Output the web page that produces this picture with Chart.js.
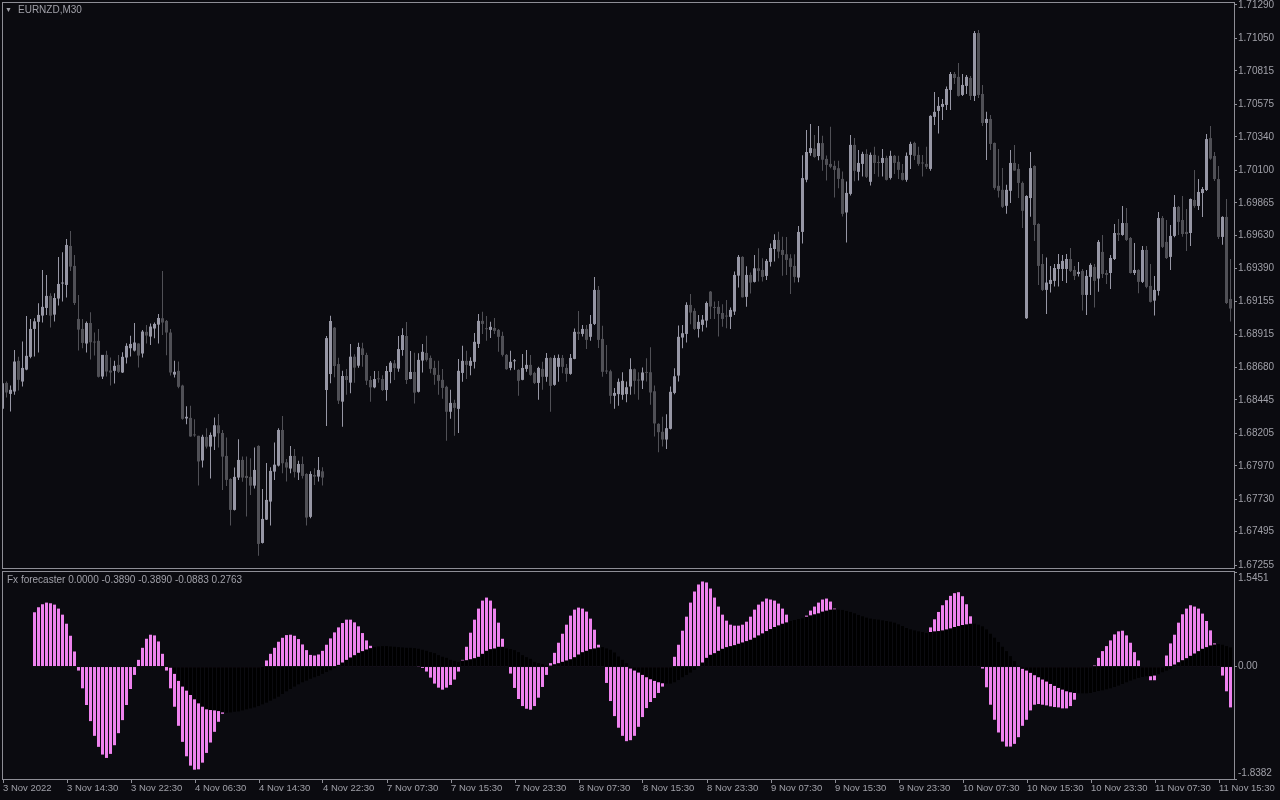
<!DOCTYPE html>
<html>
<head>
<meta charset="utf-8">
<script src="https://cdn.jsdelivr.net/npm/chart.js@4.4.1/dist/chart.umd.min.js"></script>
<style>
html, body { margin: 0; padding: 0; background: #0b0b10; width: 1280px; height: 800px; overflow: hidden; }
#wrap { position: relative; width: 1280px; height: 800px; }
canvas { position: absolute; left: 0; }
#price { top: 0; }
#ind { top: 569px; }
.lbl { position: absolute; font: 10px "Liberation Sans", Arial, sans-serif; color: #a0a0a8; white-space: nowrap; z-index: 2; }
</style>
</head>
<body>
<div id="wrap">
  <canvas id="price" width="1280" height="569"></canvas>
  <canvas id="ind" width="1280" height="231"></canvas>
  <div class="lbl" style="left:5px;top:3px;font-size:7px;line-height:14px">&#9660;</div>
  <div class="lbl" style="left:18px;top:4px">EURNZD,M30</div>
  <div class="lbl" style="left:7px;top:574px">Fx forecaster 0.0000 -0.3890 -0.3890 -0.0883 0.2763</div>
</div>
<script>
// EURNZD M30 candles, one entry per bar
const opens = [
  1.68380, 1.68567, 1.68488, 1.68505, 1.68726, 1.68577, 1.68663, 1.68755, 1.68956, 1.69007,
  1.69052, 1.69107, 1.69194, 1.69059, 1.69175, 1.69283, 1.69273, 1.69554, 1.69410, 1.69028,
  1.68956, 1.68851, 1.68999, 1.68862, 1.68870, 1.68613, 1.68769, 1.68656, 1.68654, 1.68697,
  1.68642, 1.68750, 1.68817, 1.68800, 1.68851, 1.68779, 1.68935, 1.68901, 1.68959, 1.68987,
  1.69033, 1.69014, 1.68930, 1.68627, 1.68654, 1.68548, 1.68311, 1.68315, 1.68193, 1.68186,
  1.68008, 1.68178, 1.68108, 1.68180, 1.68262, 1.68206, 1.68041, 1.67875, 1.67652, 1.67885,
  1.68012, 1.67897, 1.67890, 1.67827, 1.68113, 1.67414, 1.67582, 1.67712, 1.67928, 1.67971,
  1.68228, 1.67995, 1.67950, 1.68041, 1.67921, 1.67983, 1.67911, 1.67602, 1.67904, 1.67892,
  1.67930, 1.68516, 1.68631, 1.68965, 1.68703, 1.68432, 1.68617, 1.68569, 1.68756, 1.68691,
  1.68816, 1.68768, 1.68588, 1.68535, 1.68597, 1.68595, 1.68516, 1.68646, 1.68708, 1.68670,
  1.68804, 1.68905, 1.68595, 1.68646, 1.68503, 1.68728, 1.68783, 1.68747, 1.68675, 1.68625,
  1.68589, 1.68539, 1.68359, 1.68423, 1.68380, 1.68639, 1.68726, 1.68690, 1.68719, 1.68848,
  1.69014, 1.68959, 1.68949, 1.68963, 1.68949, 1.68906, 1.68769, 1.68675, 1.68723, 1.68661,
  1.68589, 1.68668, 1.68697, 1.68639, 1.68567, 1.68668, 1.68611, 1.68747, 1.68553, 1.68683,
  1.68747, 1.68675, 1.68632, 1.68740, 1.68935, 1.68920, 1.68956, 1.68899, 1.68992, 1.69237,
  1.68884, 1.68654, 1.68651, 1.68474, 1.68486, 1.68481, 1.68486, 1.68541, 1.68666, 1.68589,
  1.68584, 1.68644, 1.68644, 1.68507, 1.68272, 1.68215, 1.68159, 1.68236, 1.68495, 1.68620,
  1.68894, 1.68920, 1.69129, 1.69086, 1.68956, 1.68985, 1.69016, 1.69225, 1.69112, 1.69115,
  1.69071, 1.69052, 1.69043, 1.69081, 1.69340, 1.69475, 1.69187, 1.69345, 1.69295, 1.69393,
  1.69381, 1.69338, 1.69439, 1.69532, 1.69597, 1.69525, 1.69494, 1.69465, 1.69410, 1.69326,
  1.69655, 1.70031, 1.70223, 1.70255, 1.70202, 1.70295, 1.70181, 1.70145, 1.70131, 1.70114,
  1.70037, 1.69795, 1.69929, 1.70282, 1.70088, 1.70145, 1.70217, 1.70016, 1.70210, 1.70157,
  1.70152, 1.70188, 1.70044, 1.70203, 1.70160, 1.70080, 1.70030, 1.70210, 1.70296, 1.70210,
  1.70152, 1.70145, 1.70109, 1.70484, 1.70527, 1.70556, 1.70570, 1.70678, 1.70793, 1.70772,
  1.70642, 1.70707, 1.70764, 1.70635, 1.71088, 1.70649, 1.70440, 1.70469, 1.70296, 1.69987,
  1.69958, 1.69843, 1.69951, 1.70152, 1.70109, 1.70008, 1.69033, 1.69899, 1.70130, 1.69712,
  1.69424, 1.69237, 1.69280, 1.69302, 1.69388, 1.69388, 1.69388, 1.69460, 1.69381, 1.69352,
  1.69374, 1.69201, 1.69331, 1.69403, 1.69319, 1.69511, 1.69359, 1.69359, 1.69460, 1.69647,
  1.69633, 1.69719, 1.69611, 1.69359, 1.69381, 1.69295, 1.69525, 1.69266, 1.69160, 1.69230,
  1.69755, 1.69583, 1.69475, 1.69626, 1.69835, 1.69741, 1.69655, 1.69647, 1.69885, 1.69842,
  1.69935, 1.69957, 1.70331, 1.70202, 1.70036, 1.69619, 1.69763, 1.69172
];
const highs = [
  1.68589, 1.68577, 1.68548, 1.68805, 1.68755, 1.68865, 1.69050, 1.69028, 1.69033, 1.69141,
  1.69381, 1.69345, 1.69213, 1.69213, 1.69475, 1.69508, 1.69604, 1.69662, 1.69489, 1.69201,
  1.69028, 1.69009, 1.69076, 1.68930, 1.68956, 1.68769, 1.68798, 1.68750, 1.68726, 1.68769,
  1.68788, 1.68853, 1.68906, 1.68999, 1.68853, 1.68949, 1.68985, 1.68995, 1.69002, 1.69064,
  1.69374, 1.69021, 1.68956, 1.68726, 1.68721, 1.68553, 1.68399, 1.68402, 1.68306, 1.68186,
  1.68193, 1.68240, 1.68209, 1.68317, 1.68343, 1.68228, 1.68173, 1.67880, 1.67957, 1.68161,
  1.68036, 1.68036, 1.68024, 1.68101, 1.68118, 1.67803, 1.67990, 1.67959, 1.68137, 1.68240,
  1.68329, 1.68019, 1.68113, 1.68091, 1.68007, 1.68036, 1.67916, 1.67930, 1.67952, 1.68034,
  1.67959, 1.68905, 1.69051, 1.68970, 1.68749, 1.68655, 1.68667, 1.68847, 1.68773, 1.68857,
  1.68857, 1.68785, 1.68617, 1.68653, 1.68653, 1.68622, 1.68689, 1.68725, 1.68732, 1.68905,
  1.68960, 1.69006, 1.68797, 1.68785, 1.68781, 1.68848, 1.68906, 1.68764, 1.68726, 1.68726,
  1.68668, 1.68546, 1.68517, 1.68445, 1.68740, 1.68834, 1.68798, 1.68752, 1.68927, 1.69064,
  1.69079, 1.69050, 1.69007, 1.69035, 1.68956, 1.68935, 1.68776, 1.68798, 1.68740, 1.68666,
  1.68776, 1.68805, 1.68769, 1.68647, 1.68683, 1.68719, 1.68783, 1.68752, 1.68767, 1.68771,
  1.68769, 1.68704, 1.68776, 1.68959, 1.69086, 1.68985, 1.68985, 1.69057, 1.69331, 1.69266,
  1.68978, 1.68841, 1.68661, 1.68531, 1.68599, 1.68644, 1.68577, 1.68745, 1.68670, 1.68644,
  1.68678, 1.68745, 1.68824, 1.68548, 1.68277, 1.68323, 1.68342, 1.68541, 1.68673, 1.68980,
  1.68985, 1.69148, 1.69208, 1.69105, 1.69057, 1.69057, 1.69153, 1.69230, 1.69153, 1.69158,
  1.69134, 1.69165, 1.69110, 1.69369, 1.69489, 1.69480, 1.69407, 1.69362, 1.69489, 1.69537,
  1.69465, 1.69460, 1.69571, 1.69638, 1.69657, 1.69621, 1.69619, 1.69494, 1.69494, 1.69698,
  1.70207, 1.70389, 1.70432, 1.70353, 1.70418, 1.70347, 1.70205, 1.70412, 1.70167, 1.70167,
  1.70090, 1.70018, 1.70354, 1.70332, 1.70246, 1.70232, 1.70251, 1.70227, 1.70268, 1.70203,
  1.70253, 1.70203, 1.70239, 1.70210, 1.70203, 1.70145, 1.70227, 1.70304, 1.70304, 1.70268,
  1.70210, 1.70268, 1.70496, 1.70664, 1.70628, 1.70613, 1.70702, 1.70808, 1.70808, 1.70872,
  1.70793, 1.70786, 1.70779, 1.71103, 1.71110, 1.70714, 1.70520, 1.70498, 1.70300, 1.70253,
  1.70116, 1.69994, 1.70246, 1.70282, 1.70145, 1.70018, 1.69919, 1.70231, 1.70135, 1.69717,
  1.69496, 1.69470, 1.69410, 1.69424, 1.69496, 1.69489, 1.69496, 1.69539, 1.69410, 1.69439,
  1.69388, 1.69381, 1.69429, 1.69424, 1.69597, 1.69633, 1.69381, 1.69489, 1.69712, 1.69748,
  1.69842, 1.69827, 1.69619, 1.69575, 1.69386, 1.69554, 1.69554, 1.69424, 1.69338, 1.69799,
  1.69770, 1.69741, 1.69705, 1.69921, 1.69842, 1.69914, 1.69820, 1.69895, 1.70101, 1.70036,
  1.69979, 1.70360, 1.70418, 1.70231, 1.70130, 1.69767, 1.69892, 1.69460
];
const lows = [
  1.68373, 1.68462, 1.68361, 1.68481, 1.68512, 1.68541, 1.68658, 1.68745, 1.68757, 1.68786,
  1.69002, 1.69057, 1.68966, 1.69009, 1.69124, 1.69153, 1.69182, 1.69374, 1.69129, 1.68800,
  1.68817, 1.68786, 1.68735, 1.68764, 1.68606, 1.68596, 1.68613, 1.68548, 1.68563, 1.68639,
  1.68638, 1.68707, 1.68757, 1.68793, 1.68678, 1.68750, 1.68851, 1.68841, 1.68889, 1.68851,
  1.68913, 1.68767, 1.68620, 1.68606, 1.68529, 1.68301, 1.68270, 1.68179, 1.68179, 1.67828,
  1.67958, 1.68094, 1.67878, 1.68084, 1.68101, 1.67796, 1.67825, 1.67539, 1.67647, 1.67868,
  1.67854, 1.67604, 1.67760, 1.67806, 1.67321, 1.67410, 1.67580, 1.67539, 1.67868, 1.67964,
  1.67916, 1.67856, 1.67916, 1.67885, 1.67868, 1.67878, 1.67539, 1.67592, 1.67832, 1.67856,
  1.67827, 1.68257, 1.68564, 1.68607, 1.68415, 1.68252, 1.68482, 1.68492, 1.68569, 1.68677,
  1.68684, 1.68552, 1.68432, 1.68528, 1.68569, 1.68509, 1.68439, 1.68564, 1.68588, 1.68648,
  1.68763, 1.68559, 1.68593, 1.68418, 1.68498, 1.68642, 1.68721, 1.68637, 1.68553, 1.68481,
  1.68452, 1.68150, 1.68308, 1.68186, 1.68207, 1.68575, 1.68596, 1.68623, 1.68671, 1.68819,
  1.68920, 1.68870, 1.68891, 1.68920, 1.68791, 1.68757, 1.68661, 1.68659, 1.68661, 1.68474,
  1.68587, 1.68647, 1.68618, 1.68560, 1.68445, 1.68517, 1.68575, 1.68359, 1.68546, 1.68575,
  1.68637, 1.68575, 1.68625, 1.68738, 1.68877, 1.68901, 1.68812, 1.68870, 1.68985, 1.68819,
  1.68611, 1.68632, 1.68416, 1.68380, 1.68402, 1.68445, 1.68428, 1.68481, 1.68486, 1.68445,
  1.68524, 1.68577, 1.68409, 1.68181, 1.68068, 1.68109, 1.68090, 1.68231, 1.68486, 1.68577,
  1.68817, 1.68858, 1.68990, 1.68949, 1.68894, 1.68937, 1.68966, 1.69028, 1.69028, 1.68901,
  1.68971, 1.68961, 1.68956, 1.69057, 1.69254, 1.69182, 1.69115, 1.69211, 1.69290, 1.69297,
  1.69297, 1.69309, 1.69405, 1.69441, 1.69465, 1.69340, 1.69345, 1.69208, 1.69290, 1.69292,
  1.69571, 1.70012, 1.70204, 1.70190, 1.70171, 1.70095, 1.70025, 1.70114, 1.69903, 1.69970,
  1.69766, 1.69579, 1.69917, 1.70020, 1.70025, 1.70054, 1.70044, 1.69989, 1.70073, 1.70052,
  1.70054, 1.70025, 1.70032, 1.70073, 1.70037, 1.70025, 1.70016, 1.70109, 1.70174, 1.70131,
  1.70054, 1.70109, 1.70095, 1.70426, 1.70364, 1.70462, 1.70534, 1.70534, 1.70721, 1.70630,
  1.70635, 1.70649, 1.70606, 1.70599, 1.70620, 1.70419, 1.70174, 1.70246, 1.69958, 1.69903,
  1.69828, 1.69785, 1.69864, 1.70095, 1.69900, 1.69684, 1.69028, 1.69765, 1.69590, 1.69273,
  1.69230, 1.69064, 1.69218, 1.69261, 1.69261, 1.69302, 1.69287, 1.69367, 1.69309, 1.69333,
  1.69088, 1.69057, 1.69201, 1.69110, 1.69223, 1.69323, 1.69280, 1.69244, 1.69453, 1.69590,
  1.69628, 1.69590, 1.69355, 1.69345, 1.69213, 1.69287, 1.69249, 1.69146, 1.69052, 1.69196,
  1.69539, 1.69460, 1.69381, 1.69616, 1.69633, 1.69621, 1.69518, 1.69554, 1.69830, 1.69813,
  1.69763, 1.69950, 1.70175, 1.70022, 1.69604, 1.69563, 1.69136, 1.69009
];
const closes = [
  1.68565, 1.68498, 1.68517, 1.68721, 1.68589, 1.68675, 1.68762, 1.68956, 1.69011, 1.69057,
  1.69115, 1.69194, 1.69052, 1.69179, 1.69280, 1.69287, 1.69561, 1.69405, 1.69143, 1.68951,
  1.68855, 1.68999, 1.68860, 1.68858, 1.68611, 1.68769, 1.68649, 1.68642, 1.68690, 1.68647,
  1.68755, 1.68834, 1.68848, 1.68858, 1.68764, 1.68937, 1.68908, 1.68973, 1.68992, 1.69035,
  1.69002, 1.68930, 1.68642, 1.68647, 1.68539, 1.68308, 1.68323, 1.68181, 1.68189, 1.68001,
  1.68179, 1.68108, 1.68192, 1.68262, 1.68204, 1.68036, 1.67868, 1.67652, 1.67890, 1.68012,
  1.67885, 1.67882, 1.67827, 1.67940, 1.67407, 1.67587, 1.67724, 1.67933, 1.67978, 1.68228,
  1.67988, 1.67957, 1.68041, 1.67926, 1.67983, 1.67897, 1.67597, 1.67911, 1.67892, 1.67940,
  1.67885, 1.68890, 1.69013, 1.68689, 1.68439, 1.68617, 1.68588, 1.68756, 1.68677, 1.68826,
  1.68768, 1.68583, 1.68535, 1.68595, 1.68593, 1.68516, 1.68653, 1.68713, 1.68674, 1.68811,
  1.68912, 1.68588, 1.68646, 1.68497, 1.68733, 1.68791, 1.68733, 1.68668, 1.68625, 1.68582,
  1.68531, 1.68359, 1.68423, 1.68387, 1.68654, 1.68726, 1.68697, 1.68726, 1.68863, 1.69014,
  1.68992, 1.68954, 1.68971, 1.68942, 1.68899, 1.68769, 1.68666, 1.68719, 1.68728, 1.68582,
  1.68675, 1.68697, 1.68625, 1.68567, 1.68675, 1.68611, 1.68747, 1.68546, 1.68747, 1.68747,
  1.68683, 1.68632, 1.68747, 1.68935, 1.68920, 1.68956, 1.68877, 1.68992, 1.69237, 1.68877,
  1.68647, 1.68649, 1.68474, 1.68495, 1.68575, 1.68582, 1.68536, 1.68666, 1.68582, 1.68584,
  1.68642, 1.68639, 1.68498, 1.68275, 1.68212, 1.68159, 1.68241, 1.68503, 1.68615, 1.68899,
  1.68925, 1.69129, 1.69074, 1.68956, 1.69007, 1.69023, 1.69143, 1.69117, 1.69107, 1.69064,
  1.69028, 1.69045, 1.69093, 1.69345, 1.69475, 1.69184, 1.69345, 1.69290, 1.69393, 1.69374,
  1.69331, 1.69446, 1.69539, 1.69597, 1.69513, 1.69489, 1.69453, 1.69403, 1.69331, 1.69655,
  1.70043, 1.70231, 1.70259, 1.70195, 1.70295, 1.70175, 1.70138, 1.70124, 1.70102, 1.70037,
  1.69785, 1.69936, 1.70282, 1.70095, 1.70152, 1.70217, 1.70052, 1.70210, 1.70152, 1.70152,
  1.70188, 1.70030, 1.70203, 1.70152, 1.70102, 1.70030, 1.70203, 1.70289, 1.70203, 1.70145,
  1.70148, 1.70124, 1.70491, 1.70520, 1.70563, 1.70577, 1.70685, 1.70793, 1.70764, 1.70635,
  1.70714, 1.70772, 1.70635, 1.71088, 1.70642, 1.70440, 1.70469, 1.70289, 1.69972, 1.69951,
  1.69836, 1.69958, 1.70152, 1.70097, 1.70008, 1.69807, 1.69914, 1.70115, 1.69705, 1.69410,
  1.69237, 1.69290, 1.69309, 1.69395, 1.69424, 1.69446, 1.69460, 1.69374, 1.69338, 1.69367,
  1.69201, 1.69338, 1.69417, 1.69302, 1.69583, 1.69352, 1.69345, 1.69467, 1.69647, 1.69633,
  1.69719, 1.69597, 1.69359, 1.69381, 1.69295, 1.69525, 1.69259, 1.69151, 1.69237, 1.69755,
  1.69547, 1.69467, 1.69626, 1.69835, 1.69727, 1.69640, 1.69640, 1.69892, 1.69842, 1.69943,
  1.69964, 1.70324, 1.70183, 1.70036, 1.69619, 1.69763, 1.69143, 1.69103
];

// Fx forecaster buffers (null = no bar drawn)
const forecast = [
  null, null, null, null, null, null, null, null, 0.887, 0.969,
  1.018, 1.045, 1.034, 1.012, 0.947, 0.848, 0.700, 0.503, 0.246, -0.066,
  -0.356, -0.629, -0.892, -1.133, -1.313, -1.439, -1.494, -1.428, -1.286, -1.089,
  -0.876, -0.629, -0.367, -0.137, 0.109, 0.306, 0.454, 0.520, 0.509, 0.410,
  0.208, -0.066, -0.356, -0.657, -0.969, -1.231, -1.467, -1.620, -1.686, -1.680,
  -1.571, -1.412, -1.242, -1.067, -0.903, -0.772, -0.700, -0.600, -0.500, -0.420,
  -0.350, -0.280, -0.200, -0.130, -0.060, 0.000, 0.099, 0.208, 0.306, 0.405,
  0.470, 0.514, 0.520, 0.503, 0.449, 0.361, 0.268, 0.190, 0.180, 0.197,
  0.257, 0.356, 0.460, 0.558, 0.640, 0.711, 0.766, 0.766, 0.722, 0.657,
  0.547, 0.427, 0.339, 0.260, 0.220, 0.190, 0.160, 0.140, 0.120, 0.100,
  0.080, 0.060, 0.040, 0.020, 0.005, -0.022, -0.082, -0.181, -0.279, -0.345,
  -0.378, -0.345, -0.301, -0.213, -0.082, 0.109, 0.323, 0.553, 0.766, 0.947,
  1.078, 1.127, 1.078, 0.947, 0.717, 0.454, 0.180, -0.115, -0.350, -0.531,
  -0.646, -0.690, -0.706, -0.646, -0.509, -0.334, -0.137, 0.055, 0.224, 0.389,
  0.536, 0.684, 0.832, 0.930, 0.963, 0.947, 0.898, 0.783, 0.602, 0.356,
  0.120, -0.268, -0.564, -0.810, -1.000, -1.133, -1.220, -1.204, -1.133, -0.985,
  -0.826, -0.679, -0.580, -0.514, -0.432, -0.328, -0.200, -0.050, 0.159, 0.356,
  0.586, 0.815, 1.045, 1.226, 1.341, 1.390, 1.374, 1.275, 1.127, 0.980,
  0.848, 0.750, 0.684, 0.668, 0.668, 0.684, 0.733, 0.815, 0.930, 1.012,
  1.062, 1.111, 1.095, 1.078, 1.029, 0.947, 0.848, 0.720, 0.700, 0.720,
  0.770, 0.832, 0.914, 0.980, 1.045, 1.095, 1.111, 1.062, 0.947, 0.880,
  0.800, 0.720, 0.640, 0.560, 0.500, 0.450, 0.410, 0.380, 0.360, 0.350,
  0.350, 0.360, 0.370, 0.380, 0.390, 0.400, 0.400, 0.410, 0.430, 0.460,
  0.500, 0.550, 0.640, 0.772, 0.892, 1.002, 1.084, 1.155, 1.199, 1.215,
  1.149, 1.018, 0.821, 0.500, 0.250, -0.033, -0.339, -0.624, -0.870, -1.078,
  -1.226, -1.308, -1.308, -1.264, -1.155, -0.969, -0.870, -0.717, -0.624, -0.613,
  -0.624, -0.635, -0.651, -0.662, -0.668, -0.684, -0.684, -0.646, -0.542, -0.350,
  -0.250, -0.150, -0.050, 0.016, 0.142, 0.252, 0.334, 0.427, 0.525, 0.575,
  0.586, 0.509, 0.389, 0.235, 0.099, -0.050, -0.120, -0.224, -0.224, -0.100,
  -0.050, 0.180, 0.378, 0.520, 0.717, 0.854, 0.947, 1.002, 0.980, 0.947,
  0.865, 0.744, 0.591, 0.378, 0.200, -0.148, -0.405, -0.668
];
const signal = [
  null, null, null, null, null, null, null, null, null, null,
  null, null, null, null, null, null, null, null, null, null,
  null, null, null, null, null, null, null, null, null, null,
  null, null, null, null, null, null, null, null, null, null,
  null, null, -0.020, -0.120, -0.235, -0.328, -0.394, -0.465, -0.536, -0.602,
  -0.657, -0.700, -0.711, -0.717, -0.728, -0.750, -0.755, -0.750, -0.739, -0.733,
  -0.717, -0.700, -0.684, -0.668, -0.646, -0.618, -0.591, -0.558, -0.525, -0.493,
  -0.449, -0.405, -0.367, -0.328, -0.290, -0.257, -0.230, -0.200, -0.175, -0.153,
  -0.120, -0.088, -0.060, -0.027, 0.027, 0.066, 0.109, 0.148, 0.186, 0.224,
  0.252, 0.279, 0.301, 0.317, 0.328, 0.334, 0.334, 0.328, 0.323, 0.317,
  0.312, 0.306, 0.306, 0.301, 0.290, 0.274, 0.257, 0.235, 0.219, 0.186,
  0.159, 0.142, 0.109, 0.093, 0.077, 0.099, 0.104, 0.120, 0.137, 0.159,
  0.208, 0.257, 0.285, 0.296, 0.323, 0.323, 0.296, 0.285, 0.268, 0.235,
  0.186, 0.153, 0.126, 0.077, 0.055, 0.038, 0.016, 0.016, 0.038, 0.055,
  0.077, 0.099, 0.120, 0.153, 0.197, 0.235, 0.257, 0.285, 0.296, 0.312,
  0.317, 0.296, 0.274, 0.230, 0.164, 0.109, 0.055, -0.033, -0.066, -0.099,
  -0.137, -0.175, -0.208, -0.235, -0.257, -0.274, -0.279, -0.279, -0.257, -0.219,
  -0.175, -0.137, -0.099, -0.055, -0.011, 0.066, 0.142, 0.192, 0.219, 0.257,
  0.290, 0.317, 0.334, 0.350, 0.372, 0.394, 0.416, 0.438, 0.471, 0.509,
  0.542, 0.580, 0.613, 0.646, 0.673, 0.700, 0.722, 0.744, 0.761, 0.777,
  0.788, 0.815, 0.837, 0.854, 0.870, 0.898, 0.914, 0.930, 0.936, 0.930,
  0.925, 0.909, 0.892, 0.870, 0.843, 0.821, 0.799, 0.783, 0.772, 0.766,
  0.755, 0.744, 0.733, 0.717, 0.690, 0.662, 0.629, 0.607, 0.591, 0.575,
  0.564, 0.558, 0.564, 0.575, 0.580, 0.591, 0.607, 0.624, 0.646, 0.662,
  0.679, 0.690, 0.700, 0.700, 0.684, 0.657, 0.607, 0.536, 0.471, 0.400,
  0.323, 0.252, 0.170, 0.088, 0.011, -0.038, -0.066, -0.104, -0.142, -0.175,
  -0.213, -0.246, -0.285, -0.317, -0.350, -0.378, -0.405, -0.421, -0.432, -0.438,
  -0.438, -0.438, -0.432, -0.416, -0.400, -0.389, -0.372, -0.356, -0.334, -0.312,
  -0.285, -0.257, -0.230, -0.208, -0.186, -0.170, -0.159, -0.159, -0.148, -0.126,
  -0.093, -0.066, -0.038, 0.033, 0.071, 0.104, 0.137, 0.175, 0.213, 0.252,
  0.290, 0.317, 0.345, 0.361, 0.367, 0.356, 0.334, 0.312
];

const priceTicks = [1.71290, 1.71050, 1.70815, 1.70575, 1.70340, 1.70100, 1.69865, 1.69630, 1.69390,
  1.69155, 1.68915, 1.68680, 1.68445, 1.68205, 1.67970, 1.67730, 1.67495, 1.67255];
const indTicks = [-1.8382, 0, 1.5451];
const indTickLabels = ['-1.8382', '0.00', '1.5451'];
const timeLabels = ['3 Nov 2022', '3 Nov 14:30', '3 Nov 22:30', '4 Nov 06:30', '4 Nov 14:30', '4 Nov 22:30',
  '7 Nov 07:30', '7 Nov 15:30', '7 Nov 23:30', '8 Nov 07:30', '8 Nov 15:30', '8 Nov 23:30',
  '9 Nov 07:30', '9 Nov 15:30', '9 Nov 23:30', '10 Nov 07:30', '10 Nov 15:30', '10 Nov 23:30',
  '11 Nov 07:30', '11 Nov 15:30'];
const barsPerLabel = 16;

const upColor = '#9797a5';
const downColor = '#505056';
const frameColor = '#8e8e96';
const textColor = '#a0a0a8';

Chart.defaults.font.family = '"Liberation Sans", Arial, sans-serif';
Chart.defaults.font.size = 10;
Chart.defaults.color = textColor;

// MT4 style box around each plot area
const frame = {
  id: 'frame',
  afterDraw(chart) {
    const { ctx, chartArea: a } = chart;
    ctx.save();
    ctx.strokeStyle = frameColor;
    ctx.lineWidth = 1;
    ctx.strokeRect(a.left - 0.5, a.top - 0.5, a.right - a.left + 1, a.bottom - a.top + 1);
    ctx.restore();
  }
};

// right axis: fixed width, no extra room for edge labels
function fitRightAxis(s) {
  s.width = 46;
  s.paddingTop = 0;
  s.paddingBottom = 0;
}

const xMin = 0.125, xMax = 307.875;
const candleColor = ctx => closes[ctx.dataIndex] > opens[ctx.dataIndex] ? upColor : downColor;

new Chart(document.getElementById('price'), {
  type: 'bar',
  data: {
    datasets: [
      {
        data: opens.map((o, i) => ({ x: i, y: [o, closes[i]] })),
        backgroundColor: candleColor,
        barThickness: 3, maxBarThickness: 3, minBarLength: 1, inflateAmount: 0,
        grouped: false, clip: 0, order: 1
      },
      {
        data: lows.map((l, i) => ({ x: i, y: [l, highs[i]] })),
        backgroundColor: candleColor,
        barThickness: 1, maxBarThickness: 1, inflateAmount: 0,
        grouped: false, clip: 0, order: 2
      }
    ]
  },
  options: {
    responsive: false,
    animation: false,
    events: [],
    layout: { padding: { left: 3, top: 3, right: 0, bottom: 1 } },
    plugins: { legend: { display: false }, tooltip: { enabled: false } },
    scales: {
      x: { type: 'linear', display: false, min: xMin, max: xMax, offset: false },
      y: {
        position: 'right',
        min: 1.672334, max: 1.713044,
        afterFit: fitRightAxis,
        afterBuildTicks(s) { s.ticks = priceTicks.map(v => ({ value: v })); },
        ticks: { color: textColor, padding: 1, autoSkip: false, callback: v => v.toFixed(5) },
        grid: { drawOnChartArea: false, tickLength: 3, color: frameColor },
        border: { display: false }
      }
    }
  },
  plugins: [frame]
});

const points = arr => arr.map((v, i) => v === null ? null : { x: i, y: v }).filter(p => p);

new Chart(document.getElementById('ind'), {
  type: 'bar',
  data: {
    datasets: [
      {
        data: points(signal),
        backgroundColor: '#000000',
        barThickness: 3, maxBarThickness: 3, inflateAmount: 0,
        grouped: false, clip: 0, order: 1
      },
      {
        data: points(forecast),
        backgroundColor: '#ee82ee',
        barThickness: 3, maxBarThickness: 3, inflateAmount: 0,
        grouped: false, clip: 0, order: 2
      }
    ]
  },
  options: {
    responsive: false,
    animation: false,
    events: [],
    layout: { padding: { left: 3, top: 3, right: 0, bottom: 0 } },
    plugins: { legend: { display: false }, tooltip: { enabled: false } },
    scales: {
      x: {
        type: 'linear', min: xMin, max: xMax, offset: false,
        afterFit(s) { s.height = 21; s.paddingLeft = 0; s.paddingRight = 0; },
        afterBuildTicks(s) { s.ticks = timeLabels.map((t, k) => ({ value: k * barsPerLabel + xMin })); },
        ticks: {
          color: textColor, align: 'start', padding: 0, maxRotation: 0, autoSkip: false,
          font: { size: 9.5 },
          callback: (v, i) => timeLabels[i]
        },
        grid: { drawOnChartArea: false, tickLength: 4, color: frameColor, offset: false },
        border: { display: false }
      },
      y: {
        position: 'right',
        min: -1.8382, max: 1.5451,
        afterFit: fitRightAxis,
        afterBuildTicks(s) { s.ticks = indTicks.map(v => ({ value: v })); },
        ticks: {
          color: textColor, padding: 1, autoSkip: false,
          // push the edge labels inside the panel like MT4 does
          callback: (v, i) => i === 0 ? [indTickLabels[i], ''] : (i === indTicks.length - 1 ? ['', indTickLabels[i]] : indTickLabels[i])
        },
        grid: { drawOnChartArea: false, tickLength: 3, color: frameColor },
        border: { display: false }
      }
    }
  },
  plugins: [frame]
});
</script>
</body>
</html>
